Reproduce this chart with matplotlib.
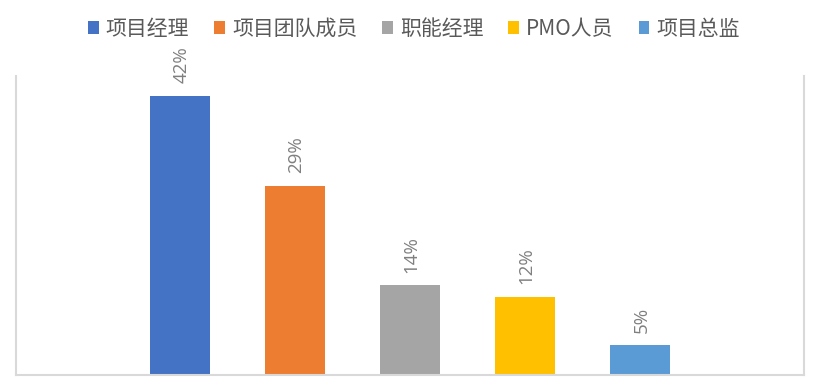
import matplotlib
matplotlib.use("Agg")
import matplotlib.pyplot as plt
from matplotlib.patches import Patch

plt.rcParams['font.family'] = ['Noto Sans CJK SC', 'DejaVu Sans']

series_names = ["项目经理", "项目团队成员", "职能经理", "PMO人员", "项目总监"]
values = [42.0, 28.5, 13.5, 11.8, 4.5]
value_labels = ["42%", "29%", "14%", "12%", "5%"]
colors = ["#4472C4", "#ED7D31", "#A5A5A5", "#FFC000", "#5B9BD5"]

fig = plt.figure(figsize=(8.16, 3.89), dpi=100)
W, H = 816, 389
ax = fig.add_axes([16 / W, (H - 375) / H, (804 - 16) / W, (375 - 76) / H])

bar_w = 60 / 115
for i, (name, v, lab, c) in enumerate(zip(series_names, values, value_labels, colors)):
    ax.bar(i, v, width=bar_w, color=c, label=name)
    ax.annotate(lab, (i, v), xytext=(1, 9), textcoords="offset points",
                rotation=90, ha="center", va="bottom", fontsize=13.5,
                color="#7F7F7F", family=["Open Sans", "DejaVu Sans"])

ax.set_xlim(2 - 394 / 115, 2 + 394 / 115)
ax.set_ylim(0, 45)
ax.set_xticks([])
ax.set_yticks([])
for s in ["left", "right", "bottom"]:
    ax.spines[s].set_color("#D9D9D9")
    ax.spines[s].set_linewidth(1.5)
ax.spines["top"].set_visible(False)

handles = [Patch(facecolor=c, edgecolor="none") for c in colors]
leg = fig.legend(handles, series_names, loc="center", ncol=5,
                 bbox_to_anchor=(414 / W, 1 - 29 / H), frameon=False,
                 fontsize=15, handlelength=0.5, handleheight=0.6,
                 handletextpad=0.35, columnspacing=1.2, borderaxespad=0)
for t in leg.get_texts():
    t.set_color("#595959")

fig.savefig("out.png", dpi=100)
